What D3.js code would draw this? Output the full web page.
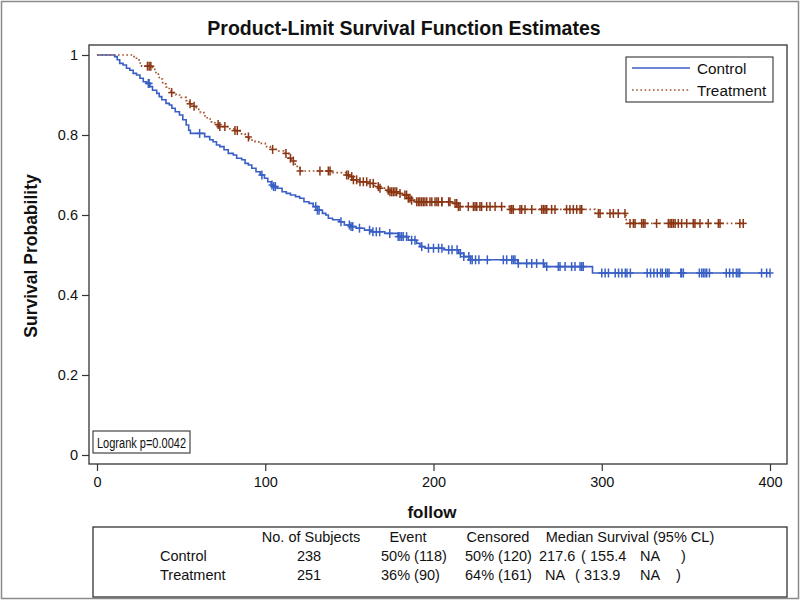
<!DOCTYPE html>
<html><head><meta charset="utf-8">
<script src="https://cdn.jsdelivr.net/npm/d3@7"></script>
<style>body{margin:0;background:#fff}svg{display:block}text{font-family:"Liberation Sans",Arial,sans-serif}</style>
</head><body><svg id="c" width="800" height="601"></svg>
<script>
// ---- data ----
const groups = ["Control", "Treatment"];
const controlSteps = [[0,1.0],[10.5,0.996],[12,0.988],[13.5,0.979],[15.5,0.975],[17.5,0.967],[19.5,0.962],[21.5,0.954],[23.5,0.950],[25.5,0.942],[27.5,0.933],[29.5,0.929],[31.5,0.921],[33,0.912],[35.5,0.904],[37,0.896],[38.5,0.888],[41,0.879],[43,0.875],[44.5,0.867],[46.5,0.858],[49,0.850],[51,0.838],[53,0.825],[54.5,0.812],[55.5,0.804],[64,0.796],[67,0.788],[69,0.783],[71,0.775],[73,0.771],[75.5,0.763],[78,0.754],[81,0.750],[83,0.742],[86,0.738],[88,0.729],[90,0.725],[92,0.717],[94.5,0.708],[97,0.700],[99.5,0.692],[101.5,0.683],[103.5,0.675],[105,0.671],[107,0.667],[110,0.658],[112.5,0.654],[115,0.650],[118,0.646],[120.5,0.642],[123,0.633],[126,0.629],[128.5,0.621],[131,0.612],[134,0.604],[136,0.600],[137.5,0.592],[140,0.588],[144,0.583],[147,0.575],[151,0.571],[154,0.567],[159,0.562],[163,0.558],[171,0.554],[179,0.546],[185,0.537],[190,0.529],[192,0.521],[195,0.517],[206,0.513],[215,0.504],[218,0.496],[222,0.488],[250,0.479],[266,0.471],[294.5,0.455]];
const treatmentSteps = [[0,1.0],[22,0.996],[23.5,0.988],[25,0.980],[26.5,0.972],[33,0.964],[35,0.952],[37,0.940],[39,0.928],[41,0.920],[43,0.912],[44,0.906],[47,0.900],[50,0.894],[53,0.886],[55,0.878],[56.5,0.872],[59,0.864],[61.5,0.856],[63.5,0.848],[65.5,0.840],[68,0.833],[70,0.826],[72.5,0.821],[79,0.815],[81.5,0.811],[85,0.803],[88,0.795],[90.5,0.787],[94,0.783],[97,0.779],[100,0.771],[103,0.764],[108,0.760],[111,0.754],[114,0.742],[115.5,0.735],[117,0.727],[119,0.718],[120.5,0.710],[140,0.706],[148,0.700],[150,0.696],[152,0.688],[156,0.683],[161,0.679],[165,0.671],[168,0.667],[172,0.662],[174,0.658],[179,0.654],[182,0.650],[185,0.642],[187,0.637],[190,0.633],[212,0.629],[214,0.621],[245,0.614],[296,0.604],[314.5,0.579]];
const controlCensored = [30.5,31,61,98,104,105,106,130,131,132,145,150,151,152,156,162,164,166,168,174,179,180,181,182,184,187,189,193,197,200,203,205,209,211,214,216,218,221,222,223,225,227,232,241.5,243.5,246.5,247.4,248.4,250.4,255.4,258.4,261.3,265.3,267.3,274.2,275.2,278.2,282.1,284.1,287.1,288.1,289,300,302,304,308,310,312,314,315,317,327,329,331,333,335,336,338,339,340,347,347.5,348.5,358,359.4,360.4,361.4,362.4,364,374,376,378,380,381,382,395,398,400];
const treatmentCensored = [30,31,32,44.4,55.3,57.7,72,73,76,82,83.4,90,104.4,112.3,115,116.7,120.7,132.5,137.5,138.5,148.4,149.4,151.4,152.4,154.3,156.3,158.3,160.3,162.3,164.2,167.2,168.2,173.1,174.1,175.1,176.1,177.1,178.1,180.1,183,184,185,186,187,190,191,191.9,192.9,193.9,194.9,196,197.9,199,200.9,202,202.9,204.9,205,209,209.8,212.8,213.8,214.8,215.8,220.7,223.7,224.7,225.7,227.6,228.6,231.6,233.6,236.6,240.5,245.5,246.5,247.4,251.4,252.4,254.4,258.4,264.3,265.3,266.3,267.3,270.2,272.2,279.1,281.1,283.1,285.1,287.1,288.1,298,299,304.9,306.9,309.8,313.8,316.8,318.8,319.8,323.7,324.7,325.7,332.6,339.6,340.6,341.6,342.6,343.6,345.5,347.5,350.5,354.4,355.4,358.4,363.3,369.3,370.3,382.1,384.1];
const xTicks = [0,100,200,300,400];
const yTicks = [0,0.2,0.4,0.6,0.8,1];
const yTickLabels = ["0","0.2","0.4","0.6","0.8","1"];
const tableHeader = ["No. of Subjects","Event","Censored","Median Survival (95% CL)"];
const tableLabels = ["Control","Treatment"];
const tableSubjects = ["238","251"];
const tableEvent = ["50% (118)","36% (90)"];
const tableCensored = ["50% (120)","64% (161)"];
const tableMedian = ["217.6","NA"];
const tableLower = ["155.4","313.9"];
const tableUpper = ["NA","NA"];
const logrankText = "Logrank p=0.0042";

// ---- drawing ----
const svg = d3.select("#c");
const blue = "#3a5fc4", brown = "#8a3513", brownLine = "#a0522d";
svg.append("rect").attr("x",1.5).attr("y",1.5).attr("width",797).attr("height",597).attr("fill","#fff").attr("stroke","#8a8a8a").attr("stroke-width",1.5);

const x = d3.scaleLinear().domain([0,400]).range([97,770]);
const y = d3.scaleLinear().domain([0,1]).range([455,55]);
const fL=89, fT=45, fR=787, fB=464;

svg.append("text").attr("x",404).attr("y",35).attr("text-anchor","middle").attr("font-size",19.5).attr("font-weight","bold").attr("fill","#111").text("Product-Limit Survival Function Estimates");

// frame
svg.append("rect").attr("x",fL).attr("y",fT).attr("width",fR-fL).attr("height",fB-fT).attr("fill","none").attr("stroke","#333").attr("stroke-width",1.3);

// axes
const gx = svg.append("g").attr("transform",`translate(0,${fB})`)
  .call(d3.axisBottom(x).tickValues(xTicks).tickSize(7).tickSizeOuter(0).tickPadding(6));
gx.select(".domain").remove();
const gy = svg.append("g").attr("transform",`translate(${fL},0)`)
  .call(d3.axisLeft(y).tickValues(yTicks).tickFormat((d,i)=>yTickLabels[i]).tickSize(7).tickSizeOuter(0).tickPadding(4));
gy.select(".domain").remove();
svg.selectAll(".tick text").attr("font-size",14.5).attr("font-family","Liberation Sans, Arial, sans-serif").attr("fill","#111");
svg.selectAll(".tick line").attr("stroke","#333").attr("stroke-width",1.2);

svg.append("text").attr("x",432).attr("y",518).attr("text-anchor","middle").attr("font-size",17).attr("font-weight","bold").attr("fill","#111").text("follow");
svg.append("text").attr("transform","translate(37,256) rotate(-90)").attr("text-anchor","middle").attr("font-size",17.5).attr("font-weight","bold").attr("fill","#111").text("Survival Probability");

// curves
function survAt(steps,t){ let s=steps[0][1]; for(const p of steps){ if(p[0]<=t) s=p[1]; else break;} return s; }
function drawCurve(steps, cens, lineColor, markColor, dashed, endT){
  const pts = steps.concat([[endT, steps[steps.length-1][1]]]);
  const line = d3.line().x(d=>x(d[0])).y(d=>y(d[1])).curve(d3.curveStepAfter);
  svg.append("path").attr("d",line(pts)).attr("fill","none").attr("stroke",lineColor)
    .attr("stroke-width",dashed?1.7:1.6).attr("stroke-dasharray",dashed?"1.6,2.6":null);
  const g = svg.append("g").attr("stroke",markColor).attr("stroke-width",1.5);
  cens.forEach(t=>{
    const cx=x(t), cy=y(survAt(steps,t));
    g.append("line").attr("x1",cx-3.5).attr("x2",cx+3.5).attr("y1",cy).attr("y2",cy);
    g.append("line").attr("x1",cx).attr("x2",cx).attr("y1",cy-4.5).attr("y2",cy+4.5);
  });
}
drawCurve(controlSteps, controlCensored, blue, blue, false, 400);
drawCurve(treatmentSteps, treatmentCensored, brownLine, brown, true, 384.1);

// legend
const lg = svg.append("g");
lg.append("rect").attr("x",626).attr("y",57).attr("width",147).attr("height",45).attr("fill","#fff").attr("stroke","#333").attr("stroke-width",1.1);
lg.append("line").attr("x1",632).attr("x2",690).attr("y1",68).attr("y2",68).attr("stroke",blue).attr("stroke-width",1.6);
lg.append("line").attr("x1",632).attr("x2",690).attr("y1",90).attr("y2",90).attr("stroke",brownLine).attr("stroke-width",1.7).attr("stroke-dasharray","1.6,2.6");
lg.append("text").attr("x",697).attr("y",73.5).attr("font-size",15.3).attr("fill","#111").text(groups[0]);
lg.append("text").attr("x",697).attr("y",95.5).attr("font-size",15.3).attr("fill","#111").text(groups[1]);

// logrank box
svg.append("rect").attr("x",93).attr("y",431).attr("width",97).attr("height",22).attr("fill","#fff").attr("stroke","#333").attr("stroke-width",1.1);
svg.append("text").attr("x",97).attr("y",447.5).attr("font-size",14).attr("textLength",89).attr("lengthAdjust","spacingAndGlyphs").attr("fill","#111").text(logrankText);

// table
svg.append("rect").attr("x",93).attr("y",527).attr("width",694).attr("height",70).attr("fill","none").attr("stroke","#333").attr("stroke-width",1.3);
const fs=14.5;
const hy=542, r1=561, r2=580;
const hx=[311,408,498,630];
tableHeader.forEach((h,i)=>svg.append("text").attr("x",hx[i]).attr("y",hy).attr("text-anchor","middle").attr("font-size",fs).attr("fill","#111").text(h));
[r1,r2].forEach((ry,i)=>{
  const t=(xx,s,anchor)=>svg.append("text").attr("x",xx).attr("y",ry).attr("font-size",fs).attr("fill","#111").attr("text-anchor",anchor||"start").text(s);
  t(160,tableLabels[i]);
  t(309,tableSubjects[i],"middle");
  t(381,tableEvent[i]);
  t(465,tableCensored[i]);
  t(i===0?539:545,tableMedian[i]);
  t(i===0?581:575,"(");
  t(i===0?590:584,tableLower[i]);
  t(640,tableUpper[i]);
  t(i===0?681:676,")");
});
</script></body></html>
